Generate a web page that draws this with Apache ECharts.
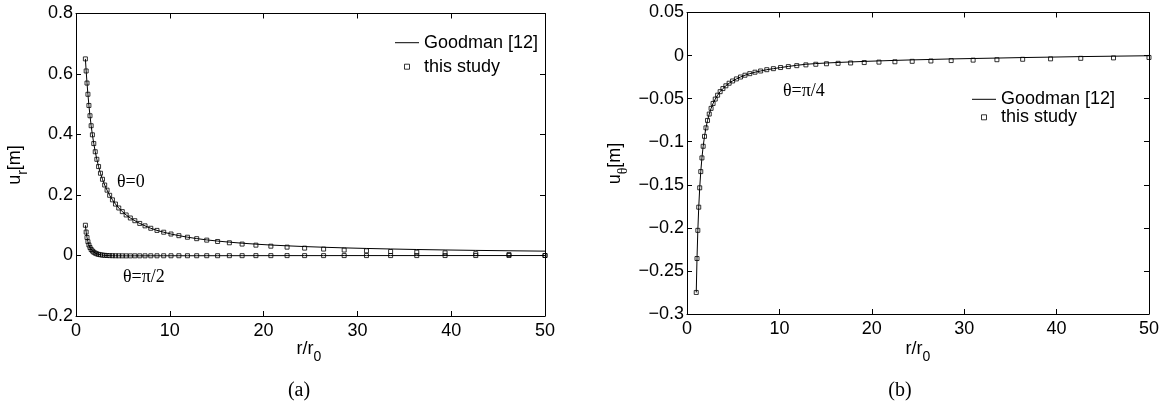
<!DOCTYPE html>
<html>
<head>
<meta charset="utf-8">
<title>Goodman comparison</title>
<script src="https://cdn.jsdelivr.net/npm/echarts@6/dist/echarts.min.js"></script>
<style>
    html, body { margin: 0; padding: 0; background: #fff; }
    #chart { width: 1162px; height: 405px; }
</style>
</head>
<body>
<div id="chart"></div>
<script>
// =====================================
// data
// =====================================

// r / r0 sample points (same for all series)
const rValues = [
    1.000, 1.083, 1.173, 1.271, 1.376, 1.491, 1.615, 1.749, 1.894, 2.051,
    2.222, 2.407, 2.607, 2.823, 3.058, 3.312, 3.587, 3.885, 4.208, 4.558,
    4.937, 5.347, 5.792, 6.273, 6.794, 7.359, 7.971, 8.633, 9.350, 10.127,
    10.969, 11.881, 12.868, 13.938, 15.096, 16.351, 17.709, 19.181, 20.775, 22.502,
    24.372, 26.397, 28.591, 30.967, 33.541, 36.328, 39.348, 42.618, 46.160, 50.000
];

// (a) u_r, theta = 0
const goodmanUr0 = [
    0.650, 0.610, 0.570, 0.533, 0.496, 0.462, 0.429, 0.399, 0.370, 0.343,
    0.318, 0.294, 0.272, 0.252, 0.233, 0.216, 0.199, 0.184, 0.170, 0.157,
    0.145, 0.134, 0.124, 0.115, 0.106, 0.098, 0.090, 0.083, 0.077, 0.071,
    0.0657, 0.0606, 0.0559, 0.0516, 0.0477, 0.0441, 0.0407, 0.0375, 0.0346, 0.0320,
    0.0295, 0.0273, 0.0252, 0.0233, 0.0215, 0.0198, 0.0183, 0.0169, 0.0156, 0.0144
];
const studyUr0 = [
    0.650, 0.610, 0.570, 0.533, 0.496, 0.462, 0.429, 0.399, 0.370, 0.343,
    0.318, 0.294, 0.272, 0.252, 0.233, 0.216, 0.199, 0.184, 0.170, 0.157,
    0.145, 0.134, 0.124, 0.115, 0.106, 0.098, 0.090, 0.083, 0.077, 0.071,
    0.0655, 0.0604, 0.0556, 0.0508, 0.0463, 0.0420, 0.0378, 0.0342, 0.0308, 0.0276,
    0.0244, 0.0212, 0.0180, 0.0155, 0.0132, 0.0110, 0.0088, 0.0060, 0.0030, 0.0000
];

// (a) u_r, theta = pi/2
const goodmanUr90 = [
    0.100, 0.0774, 0.0596, 0.0457, 0.0349, 0.0265, 0.0199, 0.0149, 0.0109, 0.0079,
    0.0055, 0.0037, 0.0024, 0.0013, 0.0006, 0.0000, -0.0004, -0.0007, -0.0009, -0.0010,
    -0.0011, -0.0012, -0.0012, -0.0011, -0.0011, -0.0011, -0.0010, -0.0010, -0.0009, -0.0009,
    -0.0008, -0.0008, -0.0008, -0.0007, -0.0007, -0.0006, -0.0006, -0.0005, -0.0005, -0.0004,
    -0.0004, -0.0004, -0.0003, -0.0003, -0.0003, -0.0003, -0.0003, -0.0002, -0.0002, -0.0002
];
const studyUr90 = [
    0.100, 0.0774, 0.0596, 0.0457, 0.0349, 0.0265, 0.0199, 0.0149, 0.0109, 0.0079,
    0.0055, 0.0037, 0.0024, 0.0013, 0.0006, 0.0000, -0.0004, -0.0007, -0.0009, -0.0010,
    -0.0011, -0.0012, -0.0012, -0.0011, -0.0011, -0.0011, -0.0010, -0.0010, -0.0009, -0.0009,
    -0.0008, -0.0008, -0.0008, -0.0007, -0.0007, -0.0006, -0.0006, -0.0005, -0.0005, -0.0004,
    -0.0004, -0.0004, -0.0003, -0.0003, -0.0003, -0.0003, -0.0002, -0.0002, -0.0001, 0.0000
];

// (b) u_theta, theta = pi/4
const goodmanUt45 = [
    -0.2750, -0.2356, -0.2029, -0.1760, -0.1535, -0.1347, -0.1188, -0.1053, -0.0938, -0.0839,
    -0.0753, -0.0679, -0.0613, -0.0556, -0.0505, -0.0460, -0.0419, -0.0383, -0.0351, -0.0321,
    -0.0295, -0.0271, -0.0249, -0.0228, -0.0210, -0.0193, -0.0179, -0.0164, -0.0152, -0.0139,
    -0.0126, -0.0113, -0.0101, -0.0093, -0.0086, -0.0080, -0.0074, -0.0068, -0.0062, -0.0056,
    -0.0050, -0.0045, -0.0039, -0.0034, -0.0029, -0.0023, -0.0018, -0.0012, -0.0007, -0.0002
];
const studyUt45 = [
    -0.2750, -0.2356, -0.2029, -0.1760, -0.1535, -0.1347, -0.1188, -0.1053, -0.0938, -0.0839,
    -0.0753, -0.0679, -0.0613, -0.0556, -0.0505, -0.0460, -0.0419, -0.0383, -0.0351, -0.0321,
    -0.0295, -0.0271, -0.0249, -0.0228, -0.0210, -0.0193, -0.0179, -0.0164, -0.0152, -0.0139,
    -0.0128, -0.0117, -0.0108, -0.0101, -0.0095, -0.0090, -0.0086, -0.0081, -0.0076, -0.0072,
    -0.0067, -0.0063, -0.0058, -0.0053, -0.0048, -0.0043, -0.0038, -0.0032, -0.0027, -0.0022
];

const xTicks = { min: 0, max: 50, interval: 10 };
const yTicksA = { min: -0.2, max: 0.8, interval: 0.2 };
const yTicksB = { min: -0.3, max: 0.05, interval: 0.05 };

// =====================================
// helpers
// =====================================

const SANS = '"Liberation Sans", Arial, sans-serif';
const SERIF = '"Liberation Serif", "DejaVu Serif", serif';

function pairs(ys) {
    return rValues.map((r, i) => [r, ys[i]]);
}

function tickText(v) {
    const s = String(Math.round(v * 1000) / 1000);
    return s.replace('-', '\u2212');
}

function xAxisPair(grid) {
    const base = {
        type: 'value',
        gridIndex: grid,
        min: xTicks.min,
        max: xTicks.max,
        interval: xTicks.interval,
        axisLine: { show: true, onZero: false, lineStyle: { color: '#000', width: 1 } },
        axisTick: { show: true, inside: true, length: 5, lineStyle: { color: '#000' } },
        splitLine: { show: false }
    };
    return [
        Object.assign({}, base, {
            position: 'bottom',
            axisLabel: { color: '#000', fontSize: 18, fontFamily: SANS, margin: 6, formatter: tickText }
        }),
        Object.assign({}, base, {
            position: 'top',
            axisLabel: { show: false }
        })
    ];
}

function yAxisPair(grid, ticks) {
    const base = {
        type: 'value',
        gridIndex: grid,
        min: ticks.min,
        max: ticks.max,
        interval: ticks.interval,
        axisLine: { show: true, onZero: false, lineStyle: { color: '#000', width: 1 } },
        axisTick: { show: true, inside: true, length: 5, lineStyle: { color: '#000' } },
        splitLine: { show: false }
    };
    return [
        Object.assign({}, base, {
            position: 'left',
            axisLabel: { color: '#000', fontSize: 18, fontFamily: SANS, margin: 3, formatter: tickText }
        }),
        Object.assign({}, base, {
            position: 'right',
            axisLabel: { show: false }
        })
    ];
}

function goodmanLine(grid, ys) {
    return {
        name: 'Goodman [12]',
        type: 'line',
        xAxisIndex: grid * 2,
        yAxisIndex: grid * 2,
        data: pairs(ys),
        symbol: 'none',
        lineStyle: { color: '#000', width: 1 },
        itemStyle: { color: '#000' },
        z: 2
    };
}

function studyPoints(grid, ys) {
    return {
        name: 'this study',
        type: 'scatter',
        xAxisIndex: grid * 2,
        yAxisIndex: grid * 2,
        data: pairs(ys),
        symbol: 'rect',
        symbolSize: 4,
        itemStyle: { color: 'rgba(255,255,255,0)', borderColor: '#000', borderWidth: 1 },
        z: 3
    };
}

function legendAt(left, top, gap) {
    return {
        orient: 'vertical',
        left: left,
        top: top,
        padding: 0,
        itemWidth: 24,
        itemHeight: 5,
        itemGap: gap,
        symbolKeepAspect: true,
        textStyle: { color: '#000', fontSize: 18, lineHeight: 18, fontFamily: SANS },
        data: [
            {
                name: 'Goodman [12]',
                icon: 'path://M0,0h24v1h-24z',
                itemStyle: { color: '#000', borderWidth: 0 }
            },
            {
                name: 'this study',
                icon: 'path://M0,0h10v10h-10z',
                itemStyle: { color: 'rgba(255,255,255,0)', borderColor: '#000', borderWidth: 1 }
            }
        ]
    };
}

function plainText(text, x, y, font, size, align) {
    return {
        type: 'text',
        x: x,
        y: y,
        silent: true,
        style: {
            text: text,
            fontFamily: font,
            fontSize: size,
            fill: '#000',
            align: align || 'left',
            verticalAlign: 'middle'
        }
    };
}

function subText(main, sub, after, x, y, rotate, subFont) {
    return {
        type: 'text',
        x: x,
        y: y,
        rotation: rotate ? Math.PI / 2 : 0,
        silent: true,
        style: {
            text: '{a|' + main + '}{s|' + sub + '}' + (after ? '{a|' + after + '}' : ''),
            fill: '#000',
            align: 'center',
            verticalAlign: 'top',
            rich: {
                a: { fontSize: 18, lineHeight: 18, verticalAlign: 'top', fontFamily: SANS },
                s: { fontSize: 14, lineHeight: 34, fontFamily: subFont || SANS }
            }
        }
    };
}

// =====================================
// chart
// =====================================

const chart = echarts.init(document.getElementById('chart'));

chart.setOption({
    animation: false,
    backgroundColor: '#fff',
    grid: [
        { left: 76, top: 13.5, width: 469, height: 302.5 },
        { left: 687, top: 12.5, width: 462, height: 301.5 }
    ],
    xAxis: xAxisPair(0).concat(xAxisPair(1)),
    yAxis: yAxisPair(0, yTicksA).concat(yAxisPair(1, yTicksB)),
    legend: [
        legendAt(395, 33.7, 6),
        legendAt(972, 90.3, 0)
    ],
    series: [
        goodmanLine(0, goodmanUr0),
        goodmanLine(0, goodmanUr90),
        studyPoints(0, studyUr0),
        studyPoints(0, studyUr90),
        goodmanLine(1, goodmanUt45),
        studyPoints(1, studyUt45)
    ],
    graphic: [
        plainText('\u03b8=0', 117, 182, SERIF, 18),
        plainText('\u03b8=\u03c0/2', 123, 277, SERIF, 18),
        plainText('\u03b8=\u03c0/4', 783, 91, SERIF, 18),
        subText('u', 'r', '[m]', 6.5, 165, true),
        subText('u', '\u03b8', '[m]', 606, 163.5, true, SERIF),
        subText('r/r', '0', '', 309, 340, false),
        subText('r/r', '0', '', 918, 340, false),
        plainText('(a)', 299, 391, SERIF, 20, 'center'),
        plainText('(b)', 900, 391, SERIF, 20, 'center')
    ]
});
</script>
</body>
</html>
